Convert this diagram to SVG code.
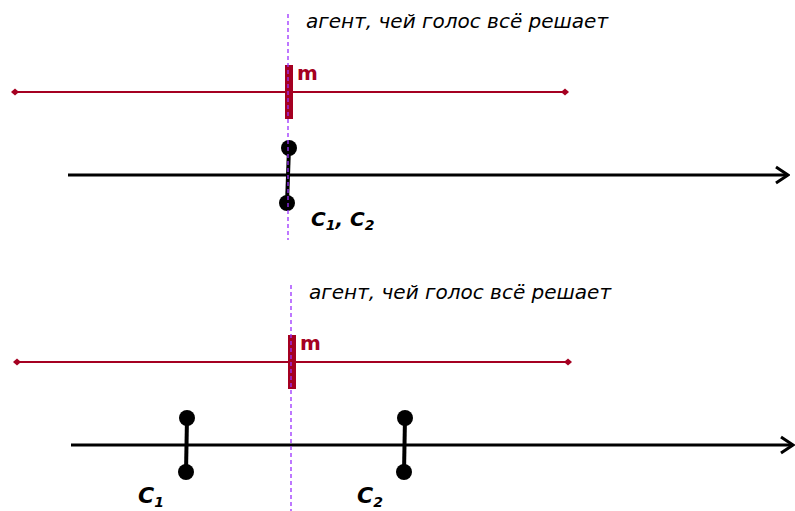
<svg xmlns="http://www.w3.org/2000/svg" width="795" height="511" viewBox="0 0 795 511">
<style>
.red{stroke:#A50021;stroke-width:2;fill:none}
.bar{fill:#A50021}
.axis{stroke:#000;stroke-width:3;fill:none}
.seg{stroke:#000;stroke-width:4}
.dot{fill:#000}
.dash{stroke:#9B30FF;stroke-width:1.3;stroke-dasharray:4 3;fill:none}
.cap{font-family:"DejaVu Sans",Verdana,sans-serif;font-style:italic;font-size:20px;fill:#000}
.m{font-family:"DejaVu Sans",Verdana,sans-serif;font-weight:bold;font-size:20px;fill:#A50021}
.c{font-family:"DejaVu Sans",Verdana,sans-serif;font-weight:bold;font-style:italic;font-size:22px;fill:#000}
.sub{font-size:14px}
</style>
<defs>
<marker id="dia" viewBox="-5 -5 10 10" markerWidth="10" markerHeight="10" refX="0" refY="0" markerUnits="userSpaceOnUse" orient="auto">
<path d="M-4 0L0-3.5L4 0L0 3.5Z" fill="#A50021"/>
</marker>
<marker id="arr" viewBox="-14 -10 16 20" markerWidth="16" markerHeight="20" refX="0" refY="0" markerUnits="userSpaceOnUse" orient="auto">
<path d="M-12-8L0 0L-12 8" fill="none" stroke="#000" stroke-width="3"/>
</marker>
</defs>
<g id="connectors">
<line class="red" x1="15" y1="92" x2="565" y2="92" marker-start="url(#dia)" marker-end="url(#dia)"/>
<line class="axis" x1="68" y1="175" x2="788" y2="175" marker-end="url(#arr)"/>
<line class="red" x1="17" y1="362" x2="568" y2="362" marker-start="url(#dia)" marker-end="url(#dia)"/>
<line class="axis" x1="71" y1="445" x2="793" y2="445" marker-end="url(#arr)"/>
</g>
<g id="m-top">
<rect class="bar" x="285" y="65" width="8" height="54"/>
<text class="m" x="297" y="80">m</text>
</g>
<g id="c12-top">
<line class="seg" x1="289" y1="148" x2="287" y2="203"/>
<circle class="dot" cx="289" cy="148" r="8"/>
<circle class="dot" cx="287" cy="203" r="8"/>
<text class="c" x="311" y="226" style="font-size:20px">C<tspan class="sub" dy="4">1</tspan><tspan dy="-4">, C</tspan><tspan class="sub" dy="4">2</tspan></text>
</g>
<g id="m-bottom">
<rect class="bar" x="288" y="335" width="8" height="54"/>
<text class="m" x="300" y="350">m</text>
</g>
<g id="c1-bottom">
<line class="seg" x1="187" y1="418" x2="186" y2="472"/>
<circle class="dot" cx="187" cy="418" r="8"/>
<circle class="dot" cx="186" cy="472" r="8"/>
<text class="c" x="138" y="503">C<tspan class="sub" dy="4">1</tspan></text>
</g>
<g id="c2-bottom">
<line class="seg" x1="405" y1="418" x2="404" y2="472"/>
<circle class="dot" cx="405" cy="418" r="8"/>
<circle class="dot" cx="404" cy="472" r="8"/>
<text class="c" x="357" y="503">C<tspan class="sub" dy="4">2</tspan></text>
</g>
<g id="agent-top">
<line class="dash" x1="288" y1="14" x2="288" y2="240"/>
<text class="cap" x="306" y="28">агент, чей голос всё решает</text>
</g>
<g id="agent-bottom">
<line class="dash" x1="291" y1="285" x2="291" y2="511"/>
<text class="cap" x="309" y="299">агент, чей голос всё решает</text>
</g>
</svg>
